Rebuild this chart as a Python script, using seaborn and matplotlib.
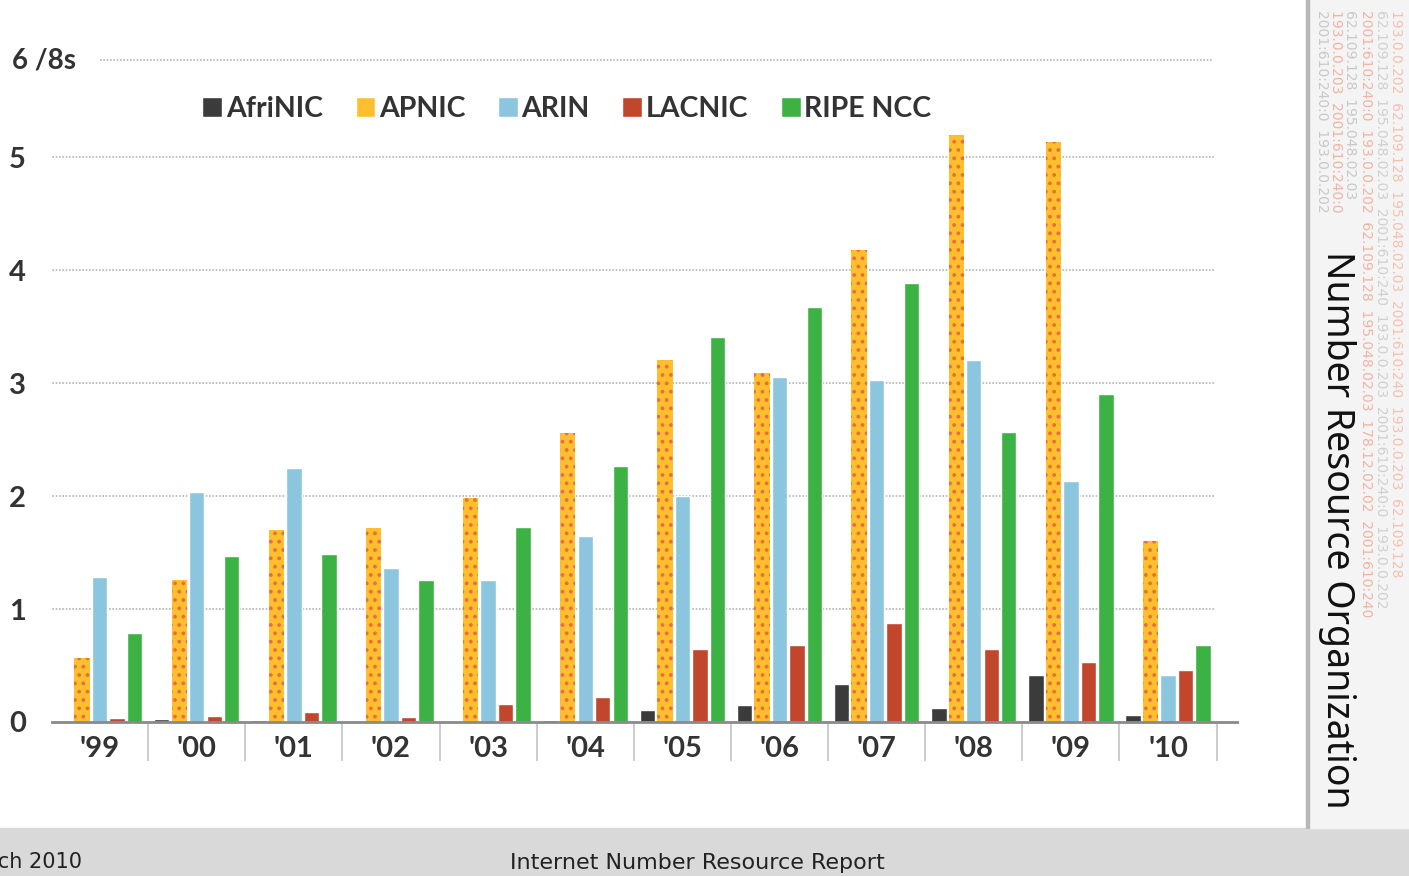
import pandas as pd
import seaborn as sns
import matplotlib.pyplot as plt
from matplotlib.patches import Rectangle

# /8 allocations per RIR
years = ["'99", "'00", "'01", "'02", "'03", "'04", "'05", "'06", "'07", "'08", "'09", "'10"]
afrinic = [0.00, 0.03, 0.02, 0.01, 0.01, 0.02, 0.11, 0.15, 0.34, 0.12, 0.42, 0.06]
apnic = [0.57, 1.26, 1.70, 1.72, 1.98, 2.56, 3.20, 3.09, 4.18, 5.20, 5.13, 1.60]
arin = [1.28, 2.04, 2.25, 1.36, 1.26, 1.65, 2.00, 3.05, 3.03, 3.20, 2.13, 0.42]
lacnic = [0.035, 0.05, 0.09, 0.04, 0.16, 0.22, 0.65, 0.68, 0.88, 0.65, 0.53, 0.46]
ripe = [0.79, 1.47, 1.49, 1.26, 1.73, 2.27, 3.41, 3.67, 3.89, 2.57, 2.90, 0.68]

rirs = ['AfriNIC', 'APNIC', 'ARIN', 'LACNIC', 'RIPE NCC']
colors = ['#3b3b3b', '#fdbf2d', '#8cc6de', '#c1462c', '#3cb244']

rows = []
for name, vals in zip(rirs, [afrinic, apnic, arin, lacnic, ripe]):
    for y, v in zip(years, vals):
        rows.append({'year': y, 'rir': name, 'value': v})
df = pd.DataFrame(rows)

sns.set_style('white')
plt.rcParams['font.family'] = ['Lato', 'DejaVu Sans']
plt.rcParams['hatch.linewidth'] = 1.5

fig = plt.figure(figsize=(14.09, 8.76), dpi=100)
ax = fig.add_axes([52 / 1409, 1 - 722 / 876, (1237 - 52) / 1409, (722 - 60) / 876])

sns.barplot(data=df, x='year', y='value', hue='rir', order=years, hue_order=rirs,
            palette=colors, width=0.9, gap=0.12, saturation=1, ax=ax)

# dotted texture on the APNIC bars
for bar in ax.containers[1]:
    bar.set_hatch('..')
    bar.set_edgecolor('#ef6a3c')
    bar.set_linewidth(0)

ax.set_xlim(-0.49, 11.71)
ax.set_ylim(0, 5.86)
ax.set_xlabel('')
ax.set_ylabel('')
for s in ['top', 'right', 'left']:
    ax.spines[s].set_visible(False)
ax.spines['bottom'].set_color('#8a8a8a')
ax.spines['bottom'].set_linewidth(2)

# dotted gridlines
ax.hlines([1, 2, 3, 4, 5], -0.52, 11.48, colors='#b5b5b5', linestyles=(0, (1, 1)), lw=1.2, zorder=0)
ax.hlines([5.86], 0.0, 11.46, colors='#b5b5b5', linestyles=(0, (1, 1)), lw=1.2, zorder=0, clip_on=False)

ax.set_yticks([0, 1, 2, 3, 4, 5])
ax.set_yticklabels(['0', '1', '2', '3', '4', '5'])
ax.tick_params(axis='y', length=0, labelsize=21, labelcolor='#333333')
for t in ax.get_yticklabels():
    t.set_fontweight('bold')
    t.set_ha('left')
    t.set_x(-0.032)

ax.tick_params(axis='x', which='major', length=0, pad=10, labelsize=21, labelcolor='#333333')
for t in ax.get_xticklabels():
    t.set_fontweight('bold')
ax.set_xticks([i + 0.5 for i in range(len(years))], minor=True)
ax.tick_params(axis='x', which='minor', bottom=True, length=28, width=1.2, color='#c4c4c4',
               direction='out')

fig.text(12 / 1409, 1 - 60 / 876, '6 /8s', fontsize=20, fontweight='bold', color='#333333', va='center')

sns.move_legend(ax, 'center', bbox_to_anchor=(567 / 1409, 1 - 109 / 876),
                bbox_transform=fig.transFigure, ncol=5, frameon=False, title=None,
                fontsize=20.5, handlelength=0.7, handleheight=0.7, handletextpad=0.12,
                columnspacing=1.15)
for t in ax.get_legend().get_texts():
    t.set_fontweight('bold')
    t.set_color('#333333')

# footer band
fig.patches.append(Rectangle((0, 0), 1, 48 / 876, transform=fig.transFigure,
                             color='#d9d9d9', zorder=-5))
fig.text(82 / 1409, 1 - 862 / 876, 'March 2010', fontsize=15, ha='right', va='center',
         color='#222222', family=['Liberation Sans Narrow', 'DejaVu Sans'])
fig.text(697 / 1409, 1 - 863 / 876, 'Internet Number Resource Report', fontsize=16, ha='center',
         va='center', color='#222222', family=['Liberation Sans Narrow', 'DejaVu Sans'])

# right side strip
fig.patches.append(Rectangle((1306 / 1409, 48 / 876), 103 / 1409, 1, transform=fig.transFigure,
                             color='#f4f4f4', zorder=-5))
fig.patches.append(Rectangle((1306 / 1409, 48 / 876), 3 / 1409, 1, transform=fig.transFigure,
                             color='#b8b8b8', zorder=-4))
ips = [('2001:610:240:0  193.0.0.202', '#c8c8c8', 1322),
       ('193.0.0.203  2001:610:240:0', '#f2b3a3', 1336),
       ('62.109.128  195.048.02.03', '#c8c8c8', 1350),
       ('2001:610:240:0  193.0.0.202  62.109.128  195.048.02.03  178.12.02.02  2001:610:240', '#f2b3a3', 1366),
       ('62.109.128  195.048.02.03  2001:610:240  193.0.0.203  2001:610:240:0  193.0.0.202', '#d0d0d0', 1381),
       ('193.0.0.202  62.109.128  195.048.02.03  2001:610:240  193.0.0.203  62.109.128', '#f4c0b2', 1396)]
for txt, c, x in ips:
    fig.text(x / 1409, 1 - 10 / 876, txt, rotation=-90, fontsize=10, color=c, va='top', ha='center',
             family=['Liberation Sans Narrow', 'DejaVu Sans'])
fig.text(1337 / 1409, 1 - 530 / 876, 'Number Resource Organization', rotation=-90, fontsize=27,
         color='#111111', ha='center', va='center', family=['Noto Sans', 'DejaVu Sans'])

fig.savefig('out.png', dpi=100)
